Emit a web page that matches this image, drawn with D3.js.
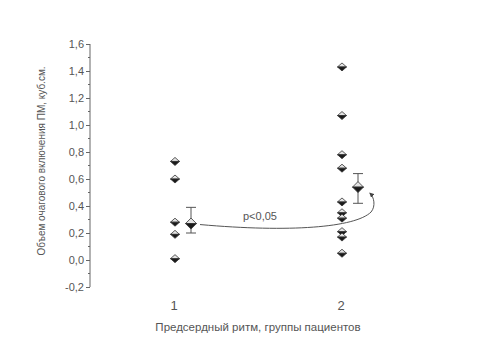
<!DOCTYPE html>
<html>
<head>
<meta charset="utf-8">
<script src="https://cdn.jsdelivr.net/npm/d3@7"></script>
<style>
	body { margin: 0; background: #fff; }
	text { font-family: "Liberation Sans", Arial, sans-serif; fill: #555; }
</style>
</head>
<body>
<svg id="chart" width="493" height="346"></svg>
<script>
"use strict"

// data
var groups = [1, 2];
var groupLabels = ["1", "2"];
var group1Values = [0.73, 0.60, 0.28, 0.19, 0.01];
var group2Values = [1.43, 1.07, 0.78, 0.68, 0.43, 0.35, 0.31, 0.21, 0.17, 0.05];
var means = [0.27, 0.54];
var errLow = [0.20, 0.42];
var errHigh = [0.39, 0.64];
var yTicks = [-0.2, 0, 0.2, 0.4, 0.6, 0.8, 1.0, 1.2, 1.4, 1.6];

var svg = d3.select("#chart");

var x = d3.scaleLinear().domain([1, 2]).range([175, 342]);
var y = d3.scaleLinear().domain([-0.2, 1.6]).range([287, 44]);

var fmt = function(d) { return d3.format(".1f")(d).replace(".", ",").replace("−", "-"); };

// y axis
var yAxis = d3.axisLeft(y)
	.tickValues(yTicks)
	.tickSize(4)
	.tickPadding(2)
	.tickFormat(fmt);
var gy = svg.append("g")
	.attr("transform", "translate(90,0)")
	.call(yAxis);
gy.select(".domain").attr("stroke", "#666").attr("d", "M0," + y(1.6) + "V" + y(-0.2));
gy.selectAll(".tick line").attr("stroke", "#666");
gy.selectAll(".tick text").style("font-size", "11px").attr("fill", "#555");

// minor ticks
var minor = d3.range(-0.1, 1.6, 0.2);
gy.selectAll(".minor")
	.data(minor)
	.enter()
	.append("line")
	.attr("x1", -2)
	.attr("x2", 0)
	.attr("y1", function(d) { return y(d); })
	.attr("y2", function(d) { return y(d); })
	.attr("stroke", "#666");

// group labels
svg.selectAll(".glabel")
	.data(groups)
	.enter()
	.append("text")
	.attr("x", function(d) { return x(d) - 1; })
	.attr("y", 310)
	.attr("text-anchor", "middle")
	.style("font-size", "13px")
	.text(function(d, i) { return groupLabels[i]; });

// axis titles
svg.append("text")
	.attr("x", 258)
	.attr("y", 331)
	.attr("text-anchor", "middle")
	.style("font-size", "11.5px")
	.text("Предсердный ритм, группы пациентов");
svg.append("text")
	.attr("transform", "translate(45,161) rotate(-90)")
	.attr("text-anchor", "middle")
	.style("font-size", "10px")
	.text("Объем очагового включения ПМ, куб.см.");

// half-filled diamond marker
function diamond(g, cx, cy, w, h) {
	g.append("path")
		.attr("d", "M" + (cx - w / 2) + "," + cy + "L" + cx + "," + (cy - h / 2) + "L" + (cx + w / 2) + "," + cy + "Z")
		.attr("fill", "#e4e4e4")
		.attr("stroke", "#333")
		.attr("stroke-width", 0.8);
	g.append("path")
		.attr("d", "M" + (cx - w / 2) + "," + cy + "L" + cx + "," + (cy + h / 2) + "L" + (cx + w / 2) + "," + cy + "Z")
		.attr("fill", "#1a1a1a")
		.attr("stroke", "#333")
		.attr("stroke-width", 0.8);
}

var pts = svg.append("g");
group1Values.forEach(function(v) { diamond(pts, x(1), y(v), 9, 8); });
group2Values.forEach(function(v) { diamond(pts, x(2), y(v), 9, 8); });

// mean with error bars
var mg = svg.append("g");
groups.forEach(function(gr, i) {
	var cx = x(gr) + 16;
	mg.append("line")
		.attr("x1", cx).attr("x2", cx)
		.attr("y1", y(errHigh[i])).attr("y2", y(errLow[i]))
		.attr("stroke", "#555").attr("stroke-width", 1);
	[errHigh[i], errLow[i]].forEach(function(v) {
		mg.append("line")
			.attr("x1", cx - 5).attr("x2", cx + 5)
			.attr("y1", y(v)).attr("y2", y(v))
			.attr("stroke", "#555").attr("stroke-width", 1);
	});
	diamond(mg, cx, y(means[i]), 11, 11);
});

// significance arrow
var ax0 = x(1) + 25, ay0 = y(means[0]) + 1;
var ax1 = x(2) + 28, ay1 = y(means[1]) + 6;
svg.append("defs").append("marker")
	.attr("id", "arr")
	.attr("viewBox", "0 0 10 10")
	.attr("refX", 8).attr("refY", 5)
	.attr("markerWidth", 5).attr("markerHeight", 5)
	.attr("orient", "auto")
	.append("path")
	.attr("d", "M0,0L10,5L0,10Z")
	.attr("fill", "#444");
svg.append("path")
	.attr("d", "M" + ax0 + "," + ay0
		+ " C" + (ax0 + 90) + "," + (ay0 + 8) + " " + (ax1 - 15) + "," + (ay0 + 3) + " " + (ax1 + 1) + "," + (ay1 + 19)
		+ " C" + (ax1 + 6) + "," + (ay1 + 13) + " " + (ax1 + 4) + "," + (ay1 + 4) + " " + ax1 + "," + ay1)
	.attr("fill", "none")
	.attr("stroke", "#555")
	.attr("stroke-width", 1)
	.attr("marker-end", "url(#arr)");

svg.append("text")
	.attr("x", 243)
	.attr("y", 220)
	.style("font-size", "11px")
	.text("p<0,05");
</script>
</body>
</html>
